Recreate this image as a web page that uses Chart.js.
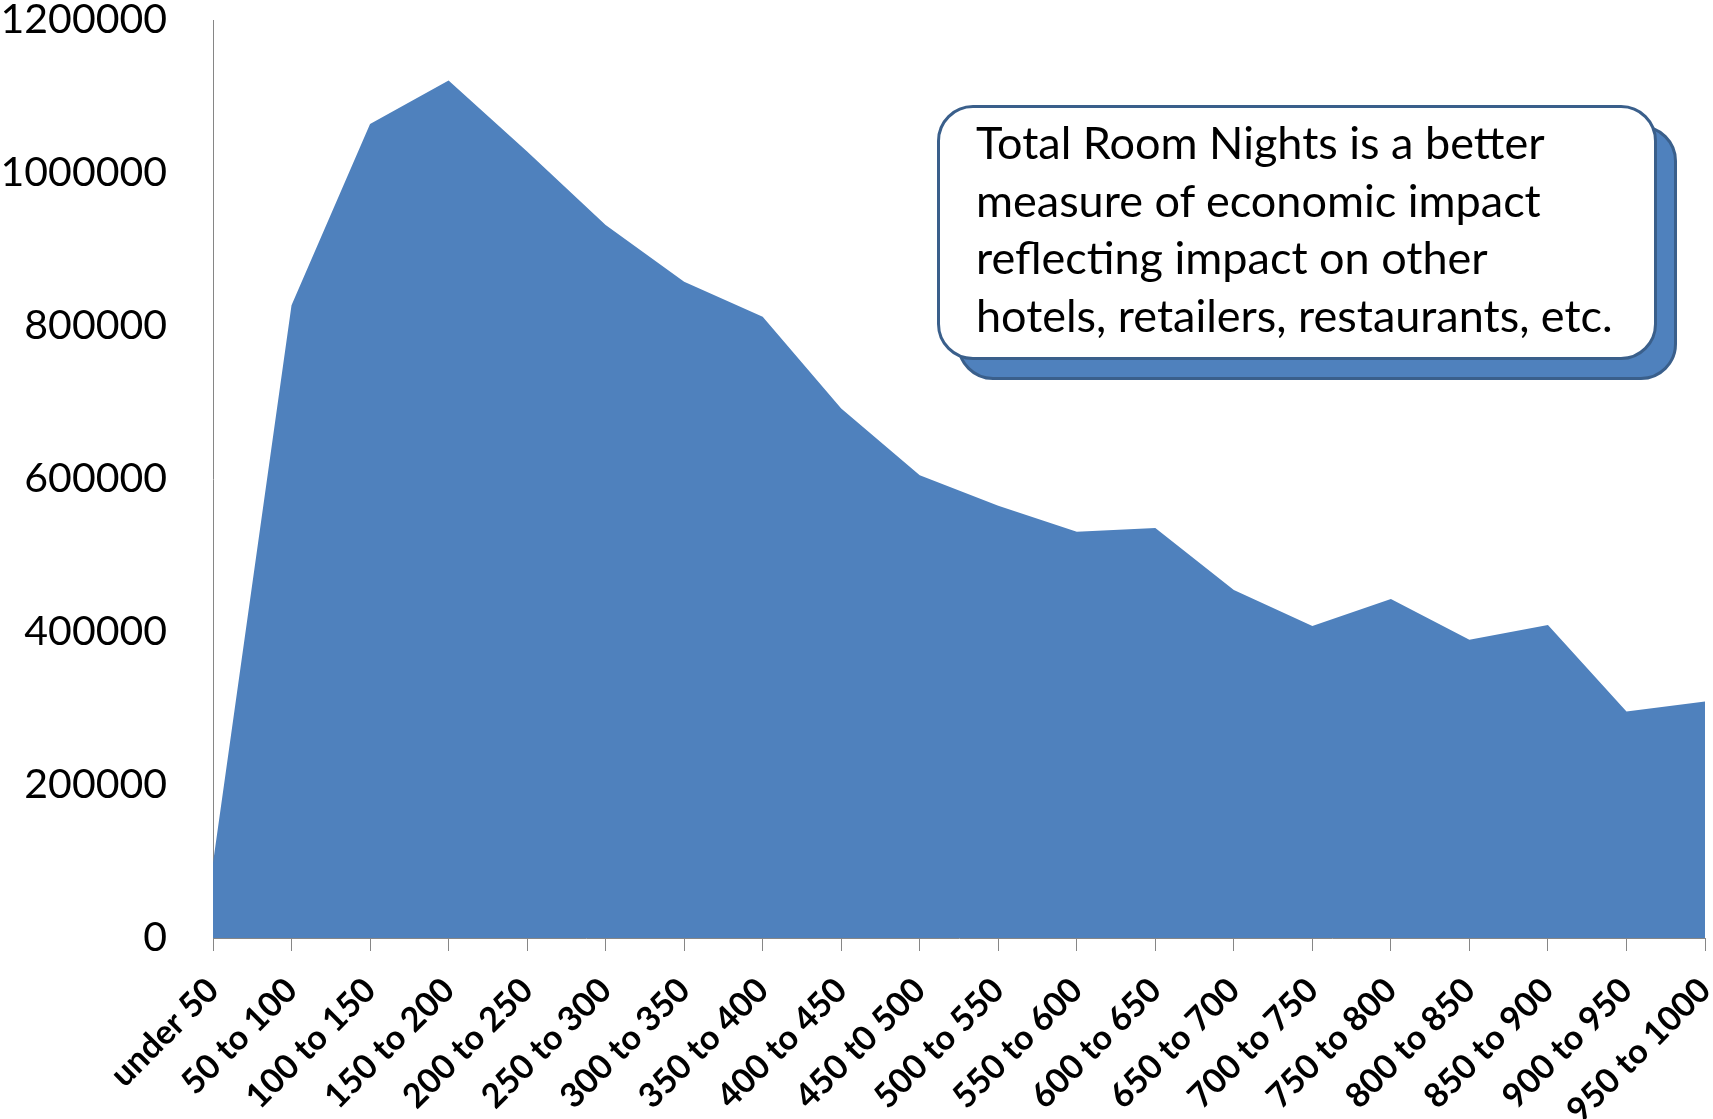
<!DOCTYPE html>
<html>
<head>
<meta charset="utf-8">
<script src="https://cdn.jsdelivr.net/npm/chart.js@4/dist/chart.umd.min.js"></script>
<style>
  html, body { margin: 0; padding: 0; background: #fff; }
  #wrap { position: relative; width: 1713px; height: 1119px; }
  #roomChart { position: absolute; left: 0; top: 0; }
  .callout-shadow, .callout {
    position: absolute;
    box-sizing: border-box;
    width: 720px;
    height: 255px;
    border: 3px solid #3a5f8b;
    border-radius: 36px;
  }
  .callout-shadow { left: 957px; top: 125px; background: #4f81bd; }
  .callout {
    left: 937px; top: 105px; background: #fff;
    padding: 6px 0 0 36px;
    font-family: Lato, "Open Sans", sans-serif;
    font-size: 45px;
    line-height: 57.5px;
    color: #000;
    white-space: nowrap;
  }
</style>
</head>
<body>
<div id="wrap">
  <canvas id="roomChart" width="1713" height="1119"></canvas>
  <div class="callout-shadow"></div>
  <div class="callout">Total Room Nights is a better<br>measure of economic impact<br>reflecting impact on other<br>hotels, retailers, restaurants, etc.</div>
</div>

<script>
/* ~~~~~~~~~~ DATA ~~~~~~~~~~*/

const rateBands = [
  'under 50', '50 to 100', '100 to 150', '150 to 200', '200 to 250',
  '250 to 300', '300 to 350', '350 to 400', '400 to 450', '450 t0 500',
  '500 to 550', '550 to 600', '600 to 650', '650 to 700', '700 to 750',
  '750 to 800', '800 to 850', '850 to 900', '900 to 950', '950 to 1000'
];

const roomNights = [
  98000, 827000, 1064000, 1121000, 1028000,
  932000, 858000, 812000, 692000, 605000,
  565000, 531000, 536000, 455000, 408000,
  443000, 390000, 409000, 296000, 309000
];

const yTicks = [0, 200000, 400000, 600000, 800000, 1000000, 1200000];

/* ~~~~~~~~~~ CHART ~~~~~~~~~~*/

const axisGray = '#868686';

let ctx = document.getElementById('roomChart').getContext('2d');

let roomChart = new Chart(ctx, {
  type: 'line',
  data: {
    labels: rateBands,
    datasets: [
      {
        label: 'Total Room Nights',
        data: roomNights,
        fill: 'origin',
        backgroundColor: '#4f81bd',
        borderWidth: 0,
        pointRadius: 0,
        tension: 0,
      },
    ],
  },
  options: {
    responsive: false,
    devicePixelRatio: 1,
    animation: false,
    layout: {
      padding: { top: 20, right: 8, left: 0, bottom: 0 },
    },
    plugins: {
      legend: { display: false },
      tooltip: { enabled: false },
    },
    scales: {
      x: {
        offset: false,
        grid: {
          display: true,
          drawOnChartArea: false,
          drawTicks: true,
          tickLength: 13,
          color: axisGray,
        },
        border: { display: true, color: axisGray, width: 1 },
        ticks: {
          autoSkip: false,
          minRotation: 45,
          maxRotation: 45,
          padding: 19,
          color: '#000',
          font: { family: 'Lato', size: 34, weight: 'bold' },
        },
        afterFit(axis) {
          axis.height = 181;
          // keep the plot running right up to the last category
          axis.paddingLeft = 0;
          axis.paddingRight = 0;
        },
      },
      y: {
        min: 0,
        max: 1200000,
        afterBuildTicks(axis) {
          axis.ticks = yTicks.map((v) => ({ value: v }));
        },
        grid: { display: false, drawTicks: false },
        border: { display: true, color: axisGray, width: 1 },
        ticks: {
          padding: 46,
          color: '#000',
          font: { family: 'Lato', size: 41, lineHeight: 1.0 },
          callback: (v) => String(v),
        },
        afterFit(axis) {
          axis.width = 213;
          axis.paddingTop = 0;
          axis.paddingBottom = 0;
        },
      },
    },
  },
});
</script>
</body>
</html>
